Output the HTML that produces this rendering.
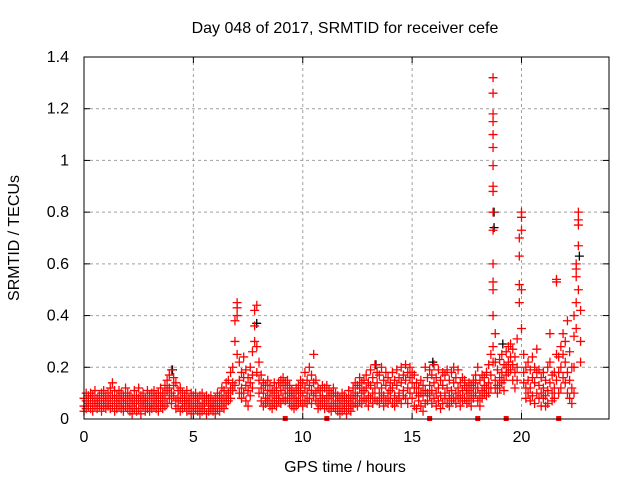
<!DOCTYPE html>
<html><head><meta charset="utf-8"><style>
html,body{margin:0;padding:0;background:#fff;}
svg{display:block;font-family:"Liberation Sans",sans-serif;}
</style></head><body>
<svg id="chart" width="640" height="480" viewBox="0 0 640 480" xmlns="http://www.w3.org/2000/svg">
<text x="345" y="33" font-size="16" text-anchor="middle">Day 048 of 2017, SRMTID for receiver cefe</text>
<text x="345" y="472" font-size="16" text-anchor="middle">GPS time / hours</text>
<text transform="translate(19,238) rotate(-90)" font-size="16" text-anchor="middle">SRMTID / TECUs</text>
<g id="grid"></g>
<g id="ticks"></g>
<g id="black"></g>
<g id="red"></g>
<rect x="84" y="57" width="525" height="362" fill="none" stroke="#000" stroke-width="1"/>
</svg>
<script>
const xTicks = [0,5,10,15,20];
const yTicks = [0,0.2,0.4,0.6,0.8,1,1.2,1.4];
const yTickLabels = ["0","0.2","0.4","0.6","0.8","1","1.2","1.4"];
const redRows = [
[0.0,.05,.08,.03],[0.1,.07,.10,.04],[0.2,.06,.09,.05],[0.3,.04,.08,.10],[0.4,.06,.03,.09],[0.5,.07,.11,.05],[0.6,.04,.08,.06],[0.7,.09,.05,.07],[0.8,.06,.10,.03],[0.9,.05,.08,.11],
[1.0,.07,.04,.09],[1.1,.06,.10,.05],[1.2,.08,.12,.04],[1.3,.05,.14,.09],[1.4,.07,.11,.03],[1.5,.06,.09,.04],[1.6,.08,.05,.11],[1.7,.04,.07,.10],[1.8,.06,.09,.03],[1.9,.05,.12,.08],
[2.0,.07,.04,.10],[2.1,.03,.06,.09],[2.2,.05,.08,.02],[2.3,.07,.11,.04],[2.4,.06,.03,.09],[2.5,.04,.08,.12],[2.6,.06,.02,.09],[2.7,.05,.10,.07],[2.8,.03,.08,.06],[2.9,.07,.11,.04],
[3.0,.05,.09,.03],[3.1,.06,.10,.04],[3.2,.08,.05,.11],[3.3,.04,.07,.09],[3.4,.06,.10,.03],[3.5,.05,.08,.12],[3.6,.07,.04,.10],[3.7,.09,.05,.13],[3.8,.06,.11,.15],[3.9,.08,.17,.12],
[4.0,.10,.19,.06],[4.1,.09,.16,.13],[4.2,.07,.14,.04],[4.3,.05,.11,.08],[4.4,.08,.03,.12],[4.5,.06,.10,.04],[4.6,.05,.09,.07],[4.7,.07,.03,.11],[4.8,.04,.08,.06],[4.9,.06,.10,.02],
[5.0,.05,.09,.03],[5.1,.07,.04,.10],[5.2,.03,.06,.08],[5.3,.05,.09,.02],[5.4,.06,.03,.10],[5.5,.04,.08,.06],[5.6,.07,.02,.09],[5.7,.05,.08,.03],[5.8,.06,.04,.09],[5.9,.03,.07,.05],
[6.0,.05,.08,.02],[6.1,.04,.07,.10],[6.2,.06,.03,.09],[6.3,.08,.05,.12],[6.4,.07,.11,.04],[6.5,.09,.14,.06],[6.6,.10,.15,.07],[6.7,.08,.18,.12],[6.8,.11,.20,.14],[6.9,.13,.30,.38],
[7.0,.45,.40,.25,.43],[7.1,.15,.22,.10],[7.2,.12,.18,.08],[7.3,.16,.10,.24],[7.4,.13,.19,.07],[7.5,.11,.16,.05],[7.6,.09,.20,.14],[7.7,.12,.26,.17],[7.8,.30,.36,.42],[7.9,.44,.28,.18],
[8.0,.15,.22,.10],[8.1,.12,.17,.07],[8.2,.10,.14,.05],[8.3,.08,.13,.06],[8.4,.11,.07,.15],[8.5,.09,.13,.05],[8.6,.07,.11,.04],[8.7,.10,.06,.14],[8.8,.08,.12,.05],[8.9,.09,.14,.07],
[9.0,.11,.15,.06],[9.1,.13,.08,.16],[9.2,.10,.14,.07],[9.3,.08,.12,.15],[9.4,.06,.10,.13],[9.5,.09,.05,.11],[9.6,.07,.10,.04],[9.7,.08,.12,.05],[9.8,.10,.06,.13],[9.9,.07,.11,.15],
[10.0,.09,.14,.05],[10.1,.12,.18,.07],[10.2,.10,.15,.06],[10.3,.08,.13,.20],[10.4,.11,.17,.06],[10.5,.14,.25,.09],[10.6,.10,.07,.15],[10.7,.06,.12,.04],[10.8,.08,.11,.05],[10.9,.09,.13,.06],
[11.0,.07,.12,.04],[11.1,.05,.09,.13],[11.2,.08,.04,.11],[11.3,.06,.10,.03],[11.4,.09,.05,.12],[11.5,.04,.07,.10],[11.6,.06,.09,.03],[11.7,.05,.08,.02],[11.8,.07,.03,.10],[11.9,.04,.06,.09],
[12.0,.05,.08,.02],[12.1,.07,.04,.11],[12.2,.06,.03,.09],[12.3,.08,.05,.12],[12.4,.06,.10,.14],[12.5,.09,.13,.05],[12.6,.07,.12,.16],[12.7,.10,.06,.14],[12.8,.08,.15,.11],[12.9,.12,.07,.17],
[13.0,.09,.14,.05],[13.1,.13,.19,.08],[13.2,.10,.16,.06],[13.3,.12,.21,.08],[13.4,.14,.07,.18],[13.5,.10,.17,.06],[13.6,.12,.08,.20],[13.7,.09,.15,.05],[13.8,.13,.18,.07],[13.9,.10,.06,.16],
[14.0,.08,.14,.11],[14.1,.12,.18,.06],[14.2,.09,.15,.05],[14.3,.13,.07,.19],[14.4,.10,.16,.08],[14.5,.14,.20,.06],[14.6,.11,.17,.09],[14.7,.15,.08,.21],[14.8,.12,.18,.06],[14.9,.10,.16,.20],
[15.0,.08,.14,.18],[15.1,.12,.05,.17],[15.2,.10,.14,.04],[15.3,.07,.12,.09],[15.4,.05,.10,.15],[15.5,.09,.03,.13],[15.6,.06,.11,.20],[15.7,.10,.16,.07],[15.8,.13,.09,.19],[15.9,.11,.17,.06],
[16.0,.14,.08,.21],[16.1,.10,.16,.05],[16.2,.12,.19,.07],[16.3,.09,.15,.04],[16.4,.13,.18,.06],[16.5,.10,.17,.08],[16.6,.12,.06,.19],[16.7,.09,.15,.05],[16.8,.11,.18,.07],[16.9,.14,.08,.20],
[17.0,.10,.16,.06],[17.1,.12,.19,.08],[17.2,.09,.14,.05],[17.3,.11,.16,.07],[17.4,.08,.13,.15],[17.5,.10,.06,.12],[17.6,.07,.11,.14],[17.7,.05,.09,.13],[17.8,.08,.12,.15],[17.9,.10,.14,.17],
[18.0,.12,.20,.07],[18.1,.09,.15,.05],[18.2,.11,.17,.08],[18.3,.13,.10,.16],[18.4,.12,.18,.09],[18.5,.14,.21,.10],[18.6,.17,.25,.12],
[18.7,.40,.50,.53,.60,.73,.80,.88,.90,.98,1.05,1.10,1.15,1.18,1.26,1.32,.28,.22],
[18.8,.15,.22,.12,.33],[18.9,.13,.19,.10],[19.0,.16,.23,.12],[19.1,.18,.25,.14],[19.2,.15,.21,.11],[19.3,.20,.26,.17],[19.4,.22,.28,.18],[19.5,.24,.29,.19],[19.6,.21,.27,.15],[19.7,.18,.24,.12],[19.8,.20,.31,.15],
[19.9,.45,.52,.63,.70],[20.0,.73,.78,.80,.50,.35],[20.1,.25,.18,.14],[20.2,.20,.12,.08],[20.3,.15,.22,.10],[20.4,.12,.19,.07],[20.5,.16,.24,.09],[20.6,.14,.20,.06],[20.7,.18,.27,.10],[20.8,.13,.19,.08],[20.9,.10,.16,.05],
[21.0,.12,.08,.18],[21.1,.09,.15,.05],[21.2,.11,.20,.06],[21.3,.14,.33,.22],[21.4,.10,.17,.07],[21.5,.12,.18,.08],[21.6,.54,.53,.25,.15],[21.7,.18,.10,.24],[21.8,.20,.28,.12],[21.9,.25,.33,.16],
[22.0,.22,.30,.14],[22.1,.18,.38,.10],[22.2,.15,.26,.08],[22.3,.12,.20,.06],[22.4,.32,.40,.10,.20],[22.5,.45,.55,.58,.60,.35],[22.6,.67,.75,.77,.80,.50],[22.7,.30,.42,.22]
];
const blackPts = [[18.7,.80],[18.7,.74],[19.1,.29],[15.9,.22],[13.3,.21],[22.6,.63],[7.85,.37],[4.0,.19]];
const zeroMarks = [9.2,11.1,15.8,18.0,19.3,21.7];

const X0=84,X1=609,Y0=419,Y1=57,XMAX=24,YMAX=1.4;
const NS='http://www.w3.org/2000/svg';
function sx(t){return X0+(X1-X0)*t/XMAX;}
function sy(v){return Y0-(Y0-Y1)*v/YMAX;}
function mk(tag,attrs,parent){const e=document.createElementNS(NS,tag);for(const k in attrs)e.setAttribute(k,attrs[k]);parent.appendChild(e);return e;}
const grid=document.getElementById('grid'),ticks=document.getElementById('ticks');
xTicks.forEach(t=>{
  const x=sx(t);
  if(t>0){const l=mk('line',{x1:x,x2:x,y1:Y0,y2:Y1,stroke:'#a0a0a0','stroke-dasharray':'3,3'},grid);
  
  }
  mk('line',{x1:x,x2:x,y1:Y0,y2:Y0-6,stroke:'#000'},ticks);
  mk('line',{x1:x,x2:x,y1:Y1,y2:Y1+6,stroke:'#000'},ticks);
  const tx=mk('text',{x:x,y:Y0+23,'font-size':'16','text-anchor':'middle'},ticks);
  tx.textContent=String(t);
  
  
});
yTicks.forEach((v,i)=>{
  const y=sy(v);
  if(v>0&&v<YMAX){const l=mk('line',{x1:X0,x2:X1,y1:y,y2:y,stroke:'#a0a0a0','stroke-dasharray':'3,3'},grid);
  
  }
  mk('line',{x1:X0,x2:X0+6,y1:y,y2:y,stroke:'#000'},ticks);
  mk('line',{x1:X1,x2:X1-6,y1:y,y2:y,stroke:'#000'},ticks);
  const tx=mk('text',{x:X0-15,y:y+5,'font-size':'16','text-anchor':'end'},ticks);
  tx.textContent=yTickLabels[i];
  
  
});
function plus(x,y,c,g){const d='M'+(x-4.5)+' '+y+'h9M'+x+' '+(y-4.5)+'v9';const p=mk('path',{d:d,stroke:c,'stroke-width':'1.3',fill:'none'},g);return p;}
const bg=document.getElementById('black');
blackPts.forEach(p=>{const e=plus(sx(p[0])+1,sy(p[1]),'#000',bg);
  
  });
const rg=document.getElementById('red');
redRows.forEach(r=>{for(let i=1;i<r.length;i++){const e=plus(sx(r[0]),sy(r[i]),'#ff0000',rg);
  
  }});
zeroMarks.forEach(t=>{const e=mk('rect',{x:sx(t)-2.5,y:Y0-3,width:5,height:5,fill:'#ff0000'},rg);
  
  });
</script>
</body></html>
